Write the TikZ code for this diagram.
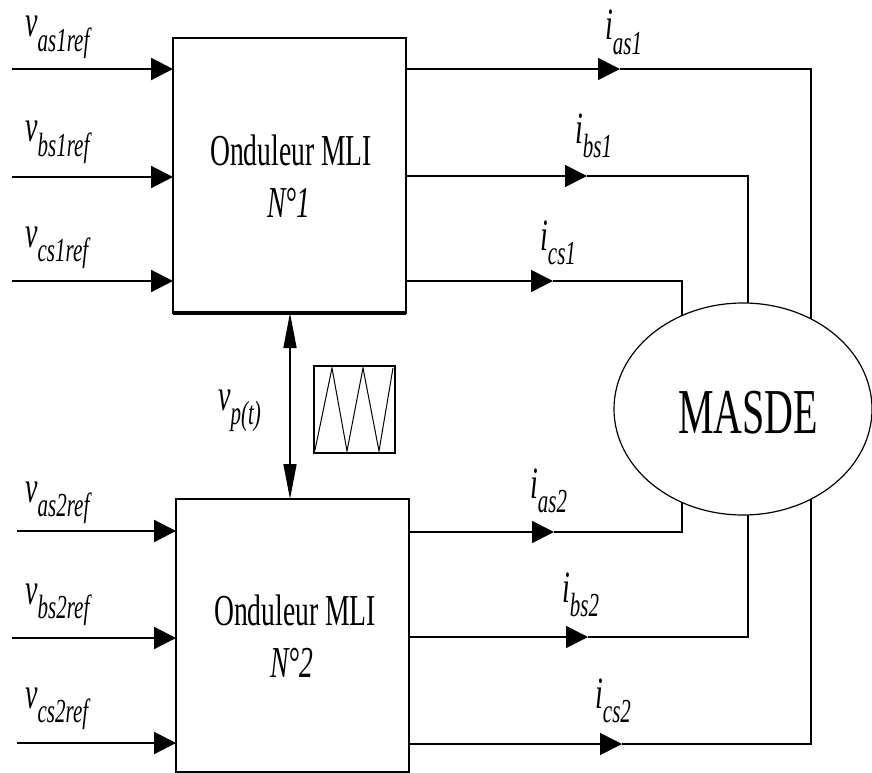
\documentclass[tikz,border=0pt]{standalone}
\usepackage{fontspec}
\usepackage{graphicx}
\setmainfont{Liberation Serif}
\usetikzlibrary{arrows.meta,shapes.geometric}
\newcommand{\tallt}[1]{\scalebox{1}[1.6]{#1}}
\newcommand{\vlab}[2]{\tallt{\fontsize{28}{28}\selectfont\itshape #1\raisebox{-9pt}{\fontsize{21}{21}\selectfont #2}}}
\newcommand{\bigtxt}[1]{\tallt{\fontsize{27.6}{28}\selectfont #1}}
\tikzset{
  wire/.style={line width=1.6pt},
  inwire/.style={line width=2.2pt,-{Triangle[length=22pt,width=22pt]}},
  outwire/.style={line width=1.6pt,-{Triangle[length=22pt,width=22pt]}},
  vwire/.style={line width=1.6pt,{Triangle[length=35pt,width=13pt]}-{Triangle[length=35pt,width=13pt]}},
  blockbox/.style={draw,line width=1.8pt,inner sep=0pt,outer sep=0pt},
  lab/.style={anchor=base west,inner sep=0pt}
}
\begin{document}
\begin{tikzpicture}[x=1pt,y=-1pt]
\useasboundingbox (0,0) rectangle (872,773);
% blocks
\node[blockbox,minimum width=233pt,minimum height=275pt] (B1) at (289.5,175.5) {};
\node[blockbox,minimum width=233pt,minimum height=273pt] (B2) at (292.5,635.5) {};
\draw[line width=4pt] (B1.south west) -- (B1.south east);
\node[anchor=base] (t1a) at (291,165) {\bigtxt{Onduleur MLI}};
\node[anchor=base] (t1b) at (289,217) {\bigtxt{\itshape N°1}};
\node[anchor=base] (t2a) at (295,625) {\bigtxt{Onduleur MLI}};
\node[anchor=base] (t2b) at (292,677) {\bigtxt{\itshape N°2}};
% machine
\node[ellipse,draw,line width=1.2pt,fill=white,minimum width=258pt,minimum height=212pt,inner sep=0pt,outer sep=0pt] (M) at (743,409) {};
\node[anchor=base] (mt) at (748,433) {\tallt{\fontsize{40}{40}\selectfont MASDE}};
% inputs box 1
\coordinate (ia1) at (12,69);
\coordinate (ib1) at (12,177);
\coordinate (ic1) at (12,281);
\draw[inwire] (ia1) -- (ia1 -| B1.west);
\draw[inwire] (ib1) -- (ib1 -| B1.west);
\draw[inwire] (ic1) -- (ic1 -| B1.west);
\node[lab] (lva1) at (25,37) {\vlab{v}{as1ref}};
\node[lab] (lvb1) at (25,142) {\vlab{v}{bs1ref}};
\node[lab] (lvc1) at (25,247) {\vlab{v}{cs1ref}};
% inputs box 2
\coordinate (ia2) at (17,531);
\coordinate (ib2) at (12,638);
\coordinate (ic2) at (17,743);
\draw[inwire] (ia2) -- (ia2 -| B2.west);
\draw[inwire] (ib2) -- (ib2 -| B2.west);
\draw[inwire] (ic2) -- (ic2 -| B2.west);
\node[lab] (lva2) at (25,502) {\vlab{v}{as2ref}};
\node[lab] (lvb2) at (25,604) {\vlab{v}{bs2ref}};
\node[lab] (lvc2) at (25,708) {\vlab{v}{cs2ref}};
% outputs box 1
\coordinate (pa1) at (620,69);  \coordinate (ka1) at (811,69);  \coordinate (ea1) at (811,318.9);
\coordinate (pb1) at (587,176); \coordinate (kb1) at (748,176); \coordinate (eb1) at (748,303.1);
\coordinate (pc1) at (553,281); \coordinate (kc1) at (682,281); \coordinate (ec1) at (682,315.6);
\draw[outwire] (pa1 -| B1.east) -- (pa1);
\draw[wire] (pa1) -- (ka1) -- (ea1);
\draw[outwire] (pb1 -| B1.east) -- (pb1);
\draw[wire] (pb1) -- (kb1) -- (eb1);
\draw[outwire] (pc1 -| B1.east) -- (pc1);
\draw[wire] (pc1) -- (kc1) -- (ec1);
\node[lab] (lia1) at (605,40) {\vlab{i}{as1}};
\node[lab] (lib1) at (575,143) {\vlab{i}{bs1}};
\node[lab] (lic1) at (540,250) {\vlab{i}{cs1}};
% outputs box 2
\coordinate (pa2) at (554,532); \coordinate (ka2) at (682,532); \coordinate (ea2) at (682,502.4);
\coordinate (pb2) at (588,637); \coordinate (kb2) at (748,637); \coordinate (eb2) at (748,514.9);
\coordinate (pc2) at (622,744); \coordinate (kc2) at (811,744); \coordinate (ec2) at (811,499.1);
\draw[outwire] (pa2 -| B2.east) -- (pa2);
\draw[wire] (pa2) -- (ka2) -- (ea2);
\draw[outwire] (pb2 -| B2.east) -- (pb2);
\draw[wire] (pb2) -- (kb2) -- (eb2);
\draw[outwire] (pc2 -| B2.east) -- (pc2);
\draw[wire] (pc2) -- (kc2) -- (ec2);
\node[lab] (lia2) at (530,498) {\vlab{i}{as2}};
\node[lab] (lib2) at (562,602) {\vlab{i}{bs2}};
\node[lab] (lic2) at (595,708) {\vlab{i}{cs2}};
% carrier
\coordinate (vp) at (290,400);
\draw[vwire] (vp |- B1.south) -- (vp |- B2.north);
\node[lab] (lvp) at (218,410) {\vlab{v}{p(t)}};
\node[draw,line width=1.6pt,minimum width=81pt,minimum height=87pt,inner sep=0pt,outer sep=0pt] (W) at (354.5,409.5) {};
\draw[line width=1pt] (315,450) -- (332,368) -- (347,451) -- (363,368) -- (379,451) -- (393,368);
\end{tikzpicture}
\end{document}
